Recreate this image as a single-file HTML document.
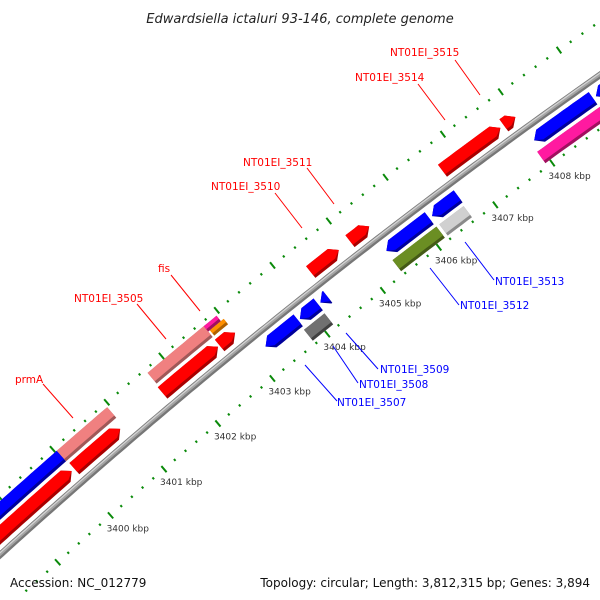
<!DOCTYPE html>
<html><head><meta charset="utf-8"><style>
html,body{margin:0;background:#fff;overflow:hidden;width:600px;height:600px;}
svg{display:block;overflow:hidden;font-family:"DejaVu Sans","Liberation Sans",sans-serif;}
</style></head><body>
<svg id="map" width="600" height="600" viewBox="0 0 600 600" xmlns="http://www.w3.org/2000/svg">
<rect width="600" height="600" fill="#fff"/>
<text x="300" y="23" text-anchor="middle" font-size="13" font-style="italic" fill="#222">Edwardsiella ictaluri 93-146, complete genome</text>
<g id="ticks"></g>
<g id="backbone"></g>
<g id="feats"></g>
<g id="labels" font-size="10.5">
<g><line x1="455" y1="60" x2="480" y2="95" stroke="#f00"/><text x="390" y="56" fill="#f00">NT01EI_3515</text></g>
<g><line x1="418" y1="84" x2="445" y2="120" stroke="#f00"/><text x="355" y="81" fill="#f00">NT01EI_3514</text></g>
<g><line x1="307" y1="168" x2="334" y2="204" stroke="#f00"/><text x="243" y="166" fill="#f00">NT01EI_3511</text></g>
<g><line x1="275" y1="193" x2="302" y2="228" stroke="#f00"/><text x="211" y="190" fill="#f00">NT01EI_3510</text></g>
<g><line x1="171" y1="275" x2="200" y2="311" stroke="#f00"/><text x="158" y="272" fill="#f00">fis</text></g>
<g><line x1="137" y1="304" x2="166" y2="339" stroke="#f00"/><text x="74" y="302" fill="#f00">NT01EI_3505</text></g>
<g><line x1="43" y1="384" x2="73" y2="418" stroke="#f00"/><text x="15" y="383" fill="#f00">prmA</text></g>
<g><line x1="465" y1="242" x2="494" y2="280" stroke="#00f"/><text x="495" y="285" fill="#00f">NT01EI_3513</text></g>
<g><line x1="430" y1="268" x2="459" y2="305" stroke="#00f"/><text x="460" y="309" fill="#00f">NT01EI_3512</text></g>
<g><line x1="346" y1="333" x2="378" y2="369" stroke="#00f"/><text x="380" y="373" fill="#00f">NT01EI_3509</text></g>
<g><line x1="333" y1="346" x2="358" y2="383" stroke="#00f"/><text x="359" y="388" fill="#00f">NT01EI_3508</text></g>
<g><line x1="305" y1="365" x2="337" y2="401" stroke="#00f"/><text x="337" y="406" fill="#00f">NT01EI_3507</text></g>
</g>
<text x="10" y="587" font-size="12" fill="#111">Accession: NC_012779</text>
<text x="590" y="587" font-size="12" fill="#111" text-anchor="end">Topology: circular; Length: 3,812,315 bp; Genes: 3,894</text>
</svg>
<script>
// data
const majorTicks = [3398,3399,3400,3401,3402,3403,3404,3405,3406,3407,3408,3409,3410];
const tickLabels = ["3400 kbp","3401 kbp","3402 kbp","3403 kbp","3404 kbp","3405 kbp","3406 kbp","3407 kbp","3408 kbp"];
const labelTicks = [3400,3401,3402,3403,3404,3405,3406,3407,3408];
const featStart = [3396.0,3400.05,3396.0,3400.03,3401.68,3402.72,3401.70,3402.72,3402.75,3404.36,3405.06,3406.69,3407.76,3403.21,3403.83,3404.20,3403.78,3405.38,3406.19,3405.37,3406.20,3407.98,3409.05,3407.92];
const featEnd   = [3400.0,3400.90,3400.03,3400.96,3402.69,3403.00,3402.72,3402.95,3403.00,3404.86,3405.40,3407.70,3407.96,3403.80,3404.16,3404.33,3404.15,3406.14,3406.65,3406.15,3406.63,3409.00,3410.00,3410.00];
const featTrack = ["o1","o1","o2","o2","o1","o1","o2","o2h","o2l","o1","o1","o1","o1","i1","i1","i1","i2","i1","i1","i2","i2","i1","i1","i2"];
const featStrand= [1,1,0,0,1,1,0,0,0,1,1,1,1,-1,-1,-1,0,-1,-1,0,0,-1,-1,0];
const featColor = ["red","red","blue","salmon","red","red","salmon","pink","orange","red","red","red","red","blue","blue","blue","dgray","blue","blue","olive","lgray","blue","blue","pink"];

const palette={red:["#ff0000","#a80000"],blue:["#0000ff","#00009a"],salmon:["#f08080","#a05858"],pink:["#ff1aa0","#a0105f"],orange:["#ff9000","#b06000"],olive:["#6b8e23","#445a16"],lgray:["#d0d0d0","#8a8a8a"],dgray:["#707070","#404040"]};
const NS="http://www.w3.org/2000/svg";
const A=[0,555],B=[250,340],C=[600,75];
const d=2*(A[0]*(B[1]-C[1])+B[0]*(C[1]-A[1])+C[0]*(A[1]-B[1]));
const cx=((A[0]**2+A[1]**2)*(B[1]-C[1])+(B[0]**2+B[1]**2)*(C[1]-A[1])+(C[0]**2+C[1]**2)*(A[1]-B[1]))/d;
const cy=((A[0]**2+A[1]**2)*(C[0]-B[0])+(B[0]**2+B[1]**2)*(A[0]-C[0])+(C[0]**2+C[1]**2)*(B[0]-A[0]))/d;
const R0=Math.hypot(A[0]-cx,A[1]-cy);
const a0=Math.atan2(517-cy,112-cx), a8=Math.atan2(164-cy,553-cx);
function ang(k){return a0+(k-3400)/8*(a8-a0);}
function pt(k,r){const a=ang(k);return [cx+r*Math.cos(a),cy+r*Math.sin(a)];}
const perKbp=Math.abs(a8-a0)/8*R0;
function arcPts(k1,k2,r){const n=Math.max(2,Math.ceil((k2-k1)*10));const o=[];for(let i=0;i<=n;i++)o.push(pt(k1+(k2-k1)*i/n,r));return o;}
function poly(pts){return pts.map(p=>p[0].toFixed(1)+","+p[1].toFixed(1)).join(" ");}

const bb=document.getElementById('backbone');
[[6.5,"#777777",0],[3.5,"#a4a4a4",0.8],[1.2,"#d4d4d4",1.6]].forEach(([w,c,off])=>{
  const p=document.createElementNS(NS,'polyline');
  p.setAttribute('points',poly(arcPts(3397.5,3410.5,R0+off)));
  p.setAttribute('fill','none');p.setAttribute('stroke',c);p.setAttribute('stroke-width',w);
  
  
  bb.appendChild(p);
});

const tg=document.getElementById('ticks');
[R0+44,R0-44].forEach(rr=>{
  for(let t=3397.4;t<=3410.601;t+=0.2){
    const k=Math.round(t*10)/10;
    const major=majorTicks.includes(k);
    const L=major?4:1.2;
    const p1=pt(k,rr-L),p2=pt(k,rr+L);
    if(Math.min(p1[0],p2[0])<-5||Math.max(p1[0],p2[0])>605||Math.min(p1[1],p2[1])<-5||Math.max(p1[1],p2[1])>598)continue;
    const l=document.createElementNS(NS,'line');
    l.setAttribute('x1',p1[0]);l.setAttribute('y1',p1[1]);l.setAttribute('x2',p2[0]);l.setAttribute('y2',p2[1]);
    l.setAttribute('stroke','#0a8a0a');l.setAttribute('stroke-width',2);
    
    
    tg.appendChild(l);
  }
});
labelTicks.forEach((k,i)=>{
  const p=pt(k,R0-44);
  const t=document.createElementNS(NS,'text');
  t.setAttribute('x',p[0]-4);t.setAttribute('y',p[1]+16);
  t.setAttribute('font-size','9');t.setAttribute('fill','#333');
  t.textContent=tickLabels[i];
  
  
  tg.appendChild(t);
});

const trackR={o1:[R0+15,15],o2:[R0+33,14],o2h:[R0+36.5,7],o2l:[R0+29.5,7],i1:[R0-15,15],i2:[R0-33,14]};
function shape(k1,k2,rc,h,strand,rLowOverride){
  const rIn=(rLowOverride!==undefined)?rLowOverride:rc-h/2, rOut=rc+h/2;
  const head=8/perKbp;
  let s=k1,e=k2;
  if(strand===1){const hb=Math.max(s,e-head);return arcPts(s,hb,rOut).concat([pt(e,(rc-h/2+rOut)/2)],arcPts(s,hb,rIn).reverse());}
  if(strand===-1){const hb=Math.min(e,s+head);return [pt(s,(rc-h/2+rOut)/2)].concat(arcPts(hb,e,rOut),arcPts(hb,e,rIn).reverse());}
  return arcPts(s,e,rOut).concat(arcPts(s,e,rIn).reverse());
}
const fg=document.getElementById('feats');
featStart.forEach((s,i)=>{
  const [rc,h]=trackR[featTrack[i]];
  const col=palette[featColor[i]];
  const g=document.createElementNS(NS,'g');
  
  
  const dark=document.createElementNS(NS,'polygon');
  dark.setAttribute('points',poly(shape(s,featEnd[i],rc,h,featStrand[i])));
  dark.setAttribute('fill',col[1]);
  
  
  const top=document.createElementNS(NS,'polygon');
  top.setAttribute('points',poly(shape(s,featEnd[i],rc,h,featStrand[i],rc-h/2+3)));
  top.setAttribute('fill',col[0]);
  
  
  g.appendChild(dark);g.appendChild(top);
  fg.appendChild(g);
});
</script>
</body></html>
